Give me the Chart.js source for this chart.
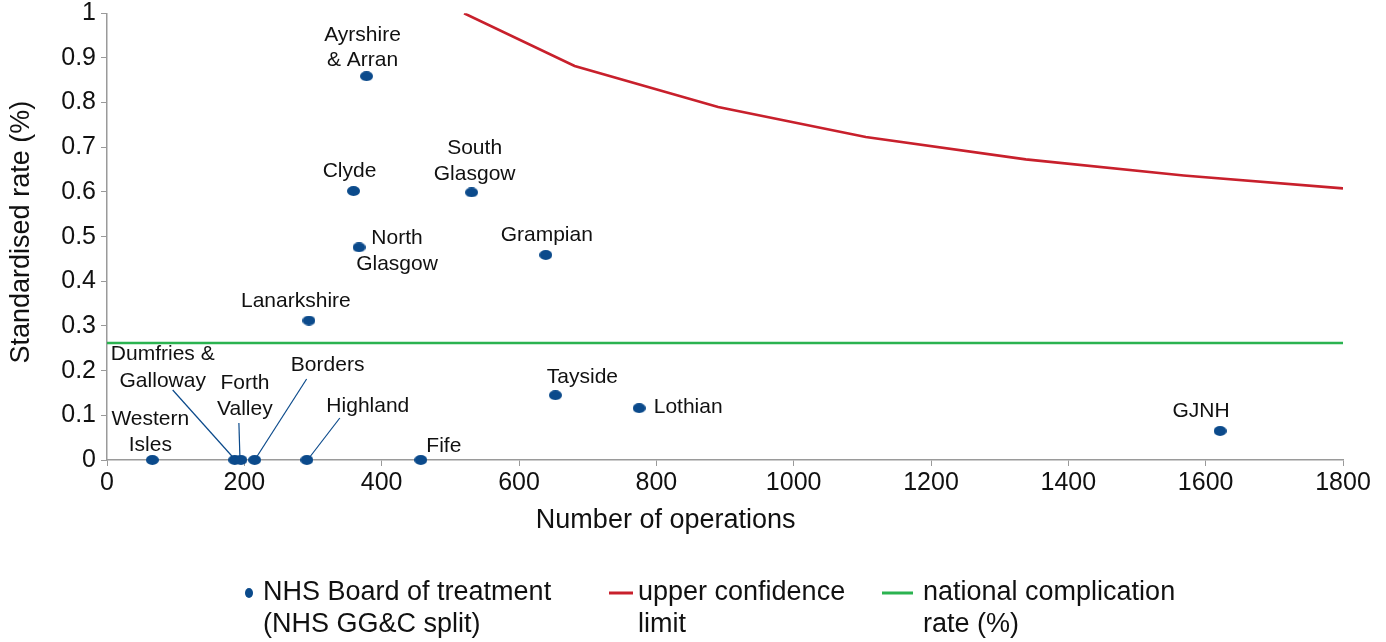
<!DOCTYPE html>
<html><head><meta charset="utf-8">
<script src="https://cdn.jsdelivr.net/npm/chart.js@4.4.1/dist/chart.umd.min.js"></script>
<style>html,body{margin:0;padding:0;background:#fff}#wrap{width:1386px;height:642px;position:relative}</style>
</head><body><div id="wrap"><canvas id="c"></canvas></div>
<script>
// ---- data ----
const boards = ["Western Isles","Dumfries & Galloway","Forth Valley","Borders","Highland","Fife","Lanarkshire","Clyde","North Glasgow","Ayrshire & Arran","South Glasgow","Grampian","Tayside","Lothian","GJNH"];
const operations = [66, 186, 195, 215, 291, 457, 294, 359, 367, 378, 531, 639, 653, 775, 1621];
const rates = [0, 0, 0, 0, 0, 0, 0.312, 0.602, 0.476, 0.859, 0.599, 0.459, 0.145, 0.116, 0.065];
const uclOperations = [520, 681, 890, 1105, 1338, 1568, 1800];
const uclRates = [1.0, 0.882, 0.790, 0.723, 0.673, 0.637, 0.608];
const nationalOperations = [0, 1800];
const nationalRate = [0.262, 0.262];
const seriesNames = ["NHS Board of treatment (NHS GG&C split)", "upper confidence limit", "national complication rate (%)"];
const legendLines = [["NHS Board of treatment","(NHS GG&C split)"],["upper confidence","limit"],["national complication","rate (%)"]];
const xTitle = "Number of operations";
const yTitle = "Standardised rate (%)";

// ---- label layout (offsets from each point, px) ----
const labelLayout = {
  "Western Isles": {lines:["Western","Isles"], dx:-2, dy:[-41,-15]},
  "Dumfries & Galloway": {lines:["Dumfries &","Galloway"], dx:-72, dy:[-106,-79], leader:[-2,-3,-62,-70]},
  "Forth Valley": {lines:["Forth","Valley"], dx:4, dy:[-77,-51], leader:[-1,-3,-2,-37]},
  "Borders": {lines:["Borders"], dx:73, dy:[-95], leader:[2,-3,52,-81]},
  "Highland": {lines:["Highland"], dx:61, dy:[-54], leader:[3,-3,33,-42]},
  "Fife": {lines:["Fife"], dx:23, dy:[-14]},
  "Lanarkshire": {lines:["Lanarkshire"], dx:-13, dy:[-19]},
  "Clyde": {lines:["Clyde"], dx:-4, dy:[-20]},
  "North Glasgow": {lines:["North","Glasgow"], dx:38, dy:[-9,17]},
  "Ayrshire & Arran": {lines:["Ayrshire","& Arran"], dx:-4, dy:[-41,-16]},
  "South Glasgow": {lines:["South","Glasgow"], dx:3, dy:[-44,-18]},
  "Grampian": {lines:["Grampian"], dx:1, dy:[-20]},
  "Tayside": {lines:["Tayside"], dx:27, dy:[-18]},
  "Lothian": {lines:["Lothian"], dx:49, dy:[-1]},
  "GJNH": {lines:["GJNH"], dx:-19, dy:[-20]}
};

const FONT = '"Liberation Sans", Arial, Helvetica, sans-serif';
const BLUE = '#0b4a8b', RED = '#c8202c', GREEN = '#2bb350', AXIS = '#9a9a9a', TXT = '#111';

function ellipseCanvas(w, h){
  const c = document.createElement('canvas'); c.width = w; c.height = h;
  const x = c.getContext('2d'); x.fillStyle = BLUE; x.beginPath();
  x.ellipse(w/2, h/2, w/2, h/2, 0, 0, Math.PI*2); x.fill(); return c;
}
const dot = ellipseCanvas(13, 10);

const labelPlugin = {
  id: 'pointLabels',
  afterDatasetsDraw(chart){
    const ctx = chart.ctx, meta = chart.getDatasetMeta(0);
    ctx.save();
    ctx.font = '21px ' + FONT; ctx.fillStyle = TXT;
    ctx.textAlign = 'center'; ctx.textBaseline = 'middle';
    meta.data.forEach((pt, i) => {
      const L = labelLayout[boards[i]]; if (!L) return;
      if (L.leader){
        ctx.strokeStyle = BLUE; ctx.lineWidth = 1.2; ctx.beginPath();
        ctx.moveTo(pt.x + L.leader[0], pt.y + L.leader[1]);
        ctx.lineTo(pt.x + L.leader[2], pt.y + L.leader[3]); ctx.stroke();
      }
      L.lines.forEach((t, j) => ctx.fillText(t, pt.x + L.dx, pt.y + L.dy[j]));
    });
    ctx.restore();
  }
};

const decorPlugin = {
  id: 'decor',
  afterDraw(chart){
    const ctx = chart.ctx, ca = chart.chartArea; ctx.save();
    ctx.fillStyle = TXT; ctx.textBaseline = 'middle';
    // axis titles
    ctx.font = '27px ' + FONT; ctx.textAlign = 'center';
    ctx.fillText(xTitle, ca.left + (ca.right - ca.left) * 0.452, ca.bottom + 61);
    ctx.save(); ctx.translate(22, ca.top + (ca.bottom - ca.top) * 0.49); ctx.rotate(-Math.PI/2);
    ctx.fillText(yTitle, 0, 0); ctx.restore();
    // legend
    ctx.font = '27px ' + FONT; ctx.textAlign = 'left';
    const y1 = 593, y2 = 625;
    ctx.fillStyle = BLUE; ctx.beginPath(); ctx.ellipse(249, y1, 4, 5, 0, 0, Math.PI*2); ctx.fill();
    ctx.lineWidth = 3;
    ctx.strokeStyle = RED; ctx.beginPath(); ctx.moveTo(609, y1); ctx.lineTo(633, y1); ctx.stroke();
    ctx.strokeStyle = GREEN; ctx.beginPath(); ctx.moveTo(882, y1); ctx.lineTo(913, y1); ctx.stroke();
    ctx.fillStyle = TXT;
    const xs = [263, 638, 923];
    legendLines.forEach((ls, k) => ls.forEach((t, j) => ctx.fillText(t, xs[k], j ? y2 : y1)));
    ctx.restore();
  }
};

new Chart(document.getElementById('c'), {
  type: 'scatter',
  data: {
    datasets: [
      { label: seriesNames[0], data: operations.map((x, i) => ({x, y: rates[i]})),
        pointStyle: dot, pointRadius: 6, pointHoverRadius: 6, order: 0, clip: false },
      { label: seriesNames[1], type: 'line', data: uclOperations.map((x, i) => ({x, y: uclRates[i]})),
        borderColor: RED, borderWidth: 2.6, pointRadius: 0, fill: false, tension: 0, order: 1 },
      { label: seriesNames[2], type: 'line', data: nationalOperations.map((x, i) => ({x, y: nationalRate[i]})),
        borderColor: GREEN, borderWidth: 2.6, pointRadius: 0, fill: false, tension: 0, order: 2 }
    ]
  },
  options: {
    responsive: true, maintainAspectRatio: false, animation: false,
    layout: { padding: { left: 0, right: 43, top: 8, bottom: 101 } },
    plugins: { legend: { display: false }, tooltip: { enabled: false } },
    scales: {
      x: {
        type: 'linear', min: 0, max: 1800,
        afterFit(s){ s.height = 81; },
        ticks: { stepSize: 200, color: TXT, font: { family: FONT, size: 25, lineHeight: 1 }, padding: 5, maxRotation: 0,
          callback: v => String(v) },
        grid: { drawOnChartArea: false, drawTicks: true, tickLength: 6, color: AXIS },
        border: { display: true, color: AXIS, width: 1.5 },
        title: { display: false }
      },
      y: {
        min: 0, max: 1,
        afterFit(s){ s.width = 107; },
        ticks: { stepSize: 0.1, color: TXT, font: { family: FONT, size: 25, lineHeight: 0.66 }, padding: 5,
          callback: v => String(Math.round(v * 10) / 10) },
        grid: { drawOnChartArea: false, drawTicks: true, tickLength: 6, color: AXIS },
        border: { display: true, color: AXIS, width: 1.5 },
        title: { display: false }
      }
    }
  },
  plugins: [labelPlugin, decorPlugin]
});
</script></body></html>
